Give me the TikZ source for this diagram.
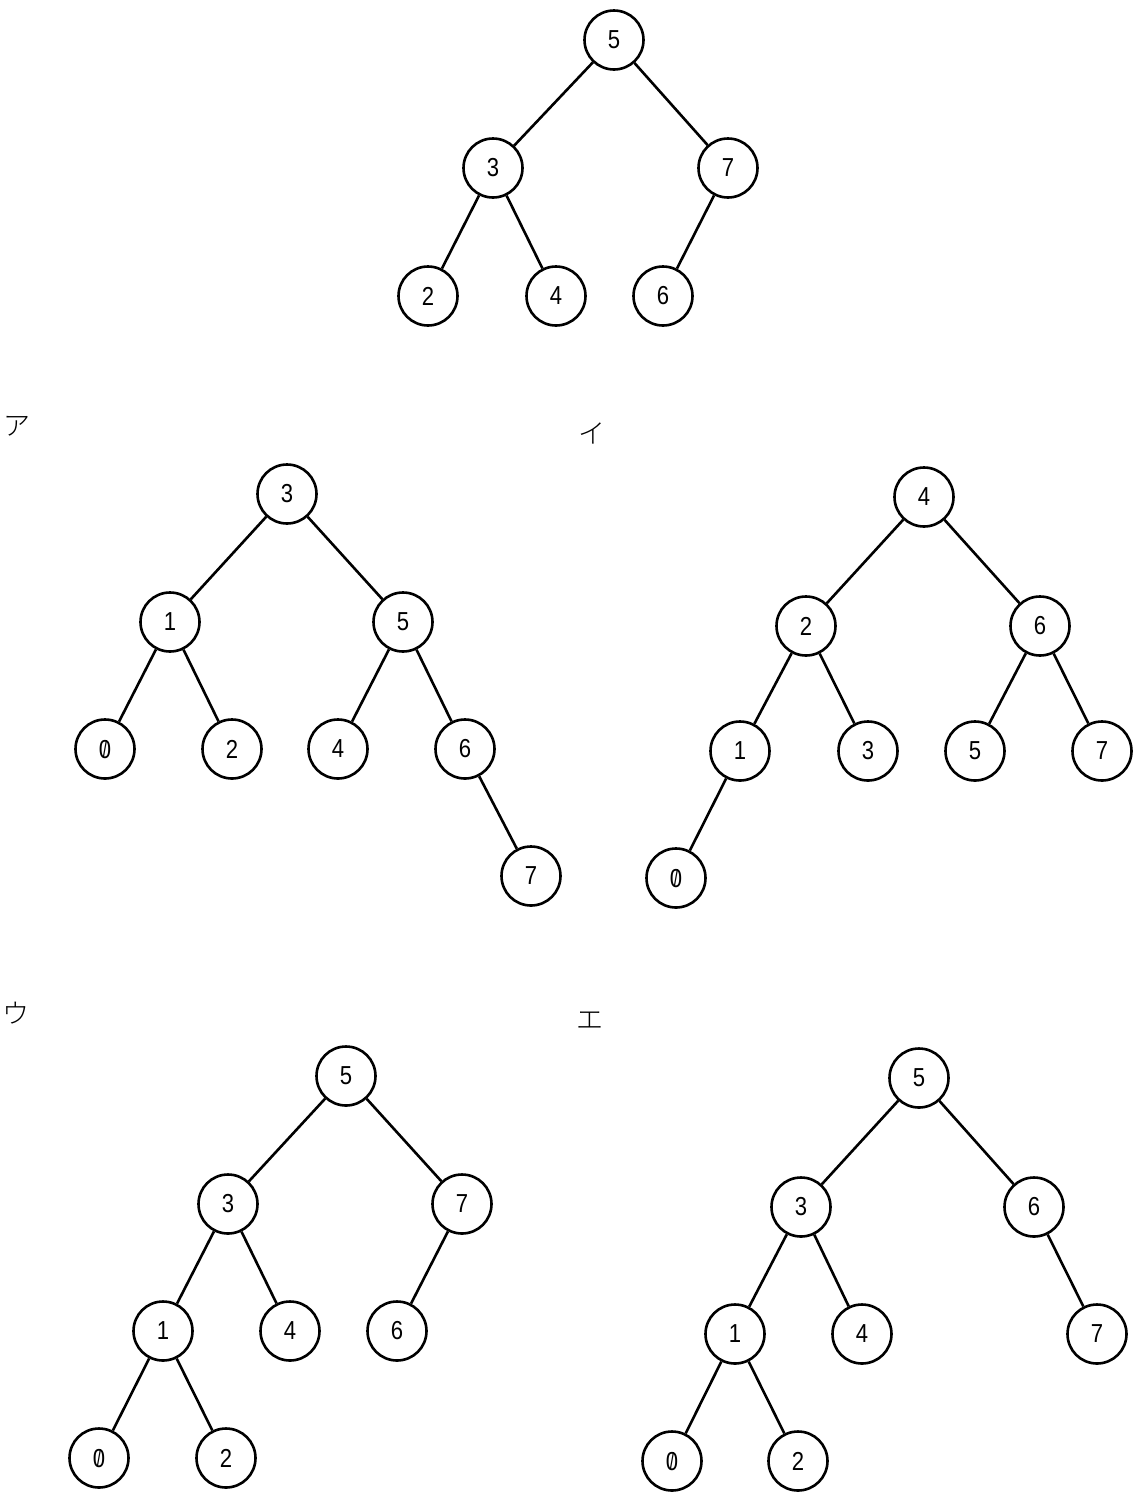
\documentclass[tikz,border=0pt]{standalone}
\usepackage{fontspec}
\setmainfont{Liberation Sans}[FakeStretch=0.85]
\newfontfamily\jpfont{Noto Sans CJK JP Light}
\newcommand\zr{\ooalign{0\cr\hidewidth\raisebox{0.03em}{\scalebox{0.7}[0.9]{/}}\hidewidth\cr}}
\begin{document}
\begin{tikzpicture}[x=1pt,y=-1pt,
  nd/.style={circle,draw,line width=2.6pt,minimum size=59pt,inner sep=0pt,font=\fontsize{26}{26}\selectfont},
  lbl/.style={font=\jpfont\fontsize{27}{27}\selectfont,inner sep=0pt},
  edge/.style={line width=2.6pt}]
\useasboundingbox (0,0) rectangle (1138,1500);
% top tree
\node[nd] (t5) at (614,40) {5};
\node[nd] (t3) at (493,168) {3};
\node[nd] (t7) at (728,168) {7};
\node[nd] (t2) at (428,296) {2};
\node[nd] (t4) at (556,296) {4};
\node[nd] (t6) at (663,296) {6};
\draw[edge] (t5)--(t3) (t5)--(t7) (t3)--(t2) (t3)--(t4) (t7)--(t6);
% a
\node[lbl] (la) at (17,426) {ア};
\node[nd] (a3) at (287,494) {3};
\node[nd] (a1) at (170,622) {1};
\node[nd] (a5) at (403,622) {5};
\node[nd] (a0) at (105,749) {\zr};
\node[nd] (a2) at (232,749) {2};
\node[nd] (a4) at (338,749) {4};
\node[nd] (a6) at (465,749) {6};
\node[nd] (a7) at (531,876) {7};
\draw[edge] (a3)--(a1) (a3)--(a5) (a1)--(a0) (a1)--(a2) (a5)--(a4) (a5)--(a6) (a6)--(a7);
% i
\node[lbl] (li) at (592,433) {イ};
\node[nd] (i4) at (924,497) {4};
\node[nd] (i2) at (806,626) {2};
\node[nd] (i6) at (1040,626) {6};
\node[nd] (i1) at (740,751) {1};
\node[nd] (i3) at (868,751) {3};
\node[nd] (i5) at (975,751) {5};
\node[nd] (i7) at (1102,751) {7};
\node[nd] (i0) at (676,878) {\zr};
\draw[edge] (i4)--(i2) (i4)--(i6) (i2)--(i1) (i2)--(i3) (i6)--(i5) (i6)--(i7) (i1)--(i0);
% u
\node[lbl] (lu) at (16,1013) {ウ};
\node[nd] (u5) at (346,1076) {5};
\node[nd] (u3) at (228,1204) {3};
\node[nd] (u7) at (462,1204) {7};
\node[nd] (u1) at (163,1331) {1};
\node[nd] (u4) at (290,1331) {4};
\node[nd] (u6) at (397,1331) {6};
\node[nd] (u0) at (99,1458) {\zr};
\node[nd] (u2) at (226,1458) {2};
\draw[edge] (u5)--(u3) (u5)--(u7) (u3)--(u1) (u3)--(u4) (u7)--(u6) (u1)--(u0) (u1)--(u2);
% e
\node[lbl] (le) at (590,1021) {エ};
\node[nd] (e5) at (919,1078) {5};
\node[nd] (e3) at (801,1207) {3};
\node[nd] (e6) at (1034,1207) {6};
\node[nd] (e1) at (735,1334) {1};
\node[nd] (e4) at (862,1334) {4};
\node[nd] (e7) at (1097,1334) {7};
\node[nd] (e0) at (672,1461) {\zr};
\node[nd] (e2) at (798,1461) {2};
\draw[edge] (e5)--(e3) (e5)--(e6) (e3)--(e1) (e3)--(e4) (e6)--(e7) (e1)--(e0) (e1)--(e2);
\end{tikzpicture}
\end{document}
